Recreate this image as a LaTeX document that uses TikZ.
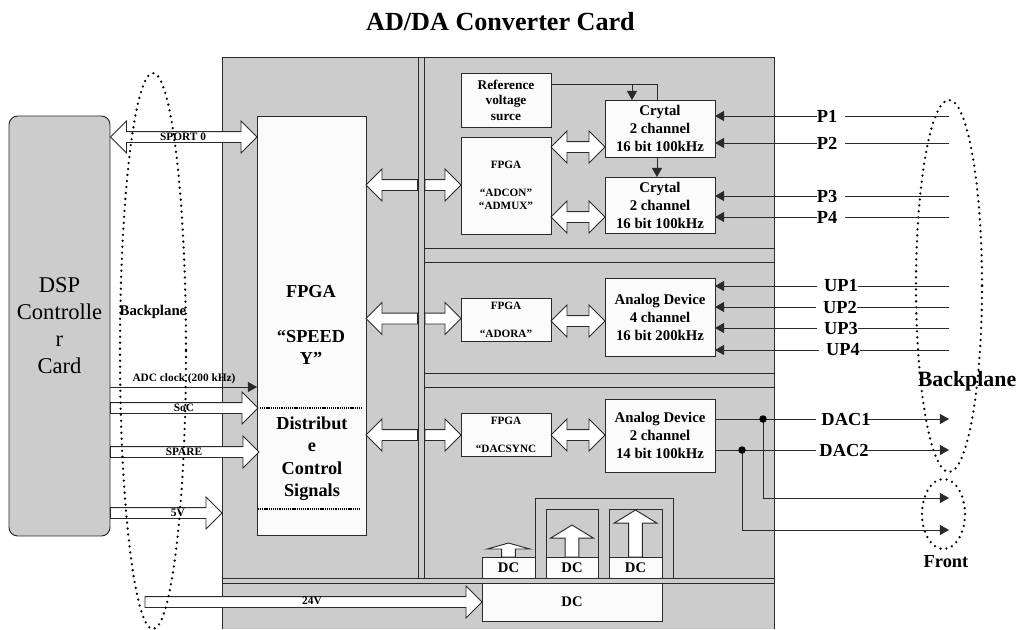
\documentclass[tikz,border=0pt]{standalone}
\usepackage{fontspec}
\setmainfont{Liberation Serif}
\usetikzlibrary{arrows.meta,calc}
\def\px{0.75pt}
\definecolor{panel}{HTML}{CCCCCC}
\definecolor{boxw}{HTML}{FBFBFB}
\definecolor{ink}{HTML}{2A2A2A}
\tikzset{
  bx/.style={draw=ink,fill=boxw,line width=.7pt,inner sep=0pt,outer sep=0pt,align=center},
  ln/.style={draw=ink,line width=.7pt},
  sig/.style={draw=ink,line width=.7pt},
  arr/.style={sig,-{Triangle[length=6.8pt,width=7.5pt]}},
  ba/.style={draw=ink,fill=white,line width=.7pt,line join=miter},
  dots/.style={draw=black,line width=1.9pt,line cap=round,dash pattern=on 0pt off 4.5pt},
  tt/.style={inner sep=0pt,outer sep=0pt,align=center},
  fCry/.style={font=\bfseries\fontsize{11.1pt}{13.5pt}\selectfont},
  fRef/.style={font=\bfseries\fontsize{10pt}{11.7pt}\selectfont},
  fFp/.style={font=\bfseries\fontsize{8.4pt}{10.4pt}\selectfont},
  fSm/.style={font=\bfseries\fontsize{8.5pt}{10pt}\selectfont},
  fDC/.style={font=\bfseries\fontsize{11pt}{13pt}\selectfont},
  fBig/.style={font=\bfseries\fontsize{13.7pt}{16.9pt}\selectfont},
  fPin/.style={font=\bfseries\fontsize{13.8pt}{16pt}\selectfont},
}
% box from corner (x1,y1) to (x2,y2) in reference pixels
\newcommand\bxn[7][bx]{\node[#1,minimum width={(#5-#3)*\px},minimum height={(#6-#4)*\px}] (#2) at ({(#3+#5)/2},{(#4+#6)/2}) {#7};}
% single block arrow #1 -> tip #2
\newcommand\harrow[2]{\draw[ba] let \p1=(#1),\p2=(#2),\n1={ifthenelse(\x2>\x1,1,-1)} in
  (\x1,\y2+4.1pt) -- (\x2-\n1*12pt,\y2+4.1pt) -- (\x2-\n1*12pt,\y2+12pt) -- (\x2,\y2)
  -- (\x2-\n1*12pt,\y2-12pt) -- (\x2-\n1*12pt,\y2-4.1pt) -- (\x1,\y2-4.1pt) -- cycle;}
% double block arrow, tips #1 (left) and #2 (right)
\newcommand\darrow[2]{\draw[ba] let \p1=(#1),\p2=(#2) in
  (\x1,\y1) -- (\x1+12pt,\y1+12pt) -- (\x1+12pt,\y1+4.1pt) -- (\x2-12pt,\y1+4.1pt) -- (\x2-12pt,\y1+12pt) -- (\x2,\y1)
  -- (\x2-12pt,\y1-12pt) -- (\x2-12pt,\y1-4.1pt) -- (\x1+12pt,\y1-4.1pt) -- (\x1+12pt,\y1-12pt) -- cycle;}
% up block arrow: base #1, tip #2, head length #3
\newcommand\uarrow[3]{\draw[ba] let \p1=(#1),\p2=(#2) in
  (\x1-5.2pt,\y1) -- (\x1-5.2pt,\y2-#3) -- (\x1-16pt,\y2-#3) -- (\x1,\y2) -- (\x1+16pt,\y2-#3) -- (\x1+5.2pt,\y2-#3) -- (\x1+5.2pt,\y1) -- cycle;}
\begin{document}
\begin{tikzpicture}[x=0.75pt,y=-0.75pt]
\useasboundingbox (0,0) rectangle (1020,629);
\fill[white] (0,0) rectangle (1020,629);
\node[tt,font=\bfseries\fontsize{19.6pt}{22pt}\selectfont] (title) at (500.5,22) {AD/DA Converter Card};

% card panels
\coordinate (pTL) at (222,57);
\coordinate (pBR) at (774,629);
\fill[panel] (pTL) rectangle (pBR);
\draw[ln] (222,629) -- (pTL) -- (774,57) -- (pBR);
\draw[ln] (418,57) -- (418,578);
\draw[ln] (424.5,57) -- (424.5,578);
\draw[ln] (222,578) -- (774,578);
\draw[ln] (222,583) -- (774,583);
\draw[ln] (424.5,248) -- (774,248);
\draw[ln] (424.5,262) -- (774,262);
\draw[ln] (424.5,373) -- (774,373);
\draw[ln] (424.5,387) -- (774,387);

% DSP card
\node[draw=ink,fill=panel,line width=.7pt,rounded corners=6.5pt,inner sep=0pt,align=center,
  minimum width=101*\px,minimum height=420*\px,font=\fontsize{16.9pt}{20.25pt}\selectfont] (dsp) at (59.5,326) {DSP\\Controlle\\r\\Card};

% FPGA main
\bxn{speedy}{257}{116}{366}{535}{}
\node[tt,fBig] (speedyT) at (311,325) {FPGA\\[16.9pt]“SPEED\\Y”};
\node[tt,fBig] (distT) at (312,458.5) {Distribut\\e\\Control\\Signals};
\coordinate (dotA) at (260,408); \coordinate (dotB) at (361,408);
\coordinate (dotC) at (258,509); \coordinate (dotD) at (359,509);
\draw[line width=.8pt,dash pattern=on .8pt off .6pt] (dotA) -- (dotB);
\draw[line width=.8pt,dash pattern=on .8pt off .6pt] (dotC) -- (dotD);

% inner boxes
\bxn[bx,fRef]{ref}{461}{73}{551}{127}{Reference\\voltage\\surce}
\bxn[bx,fFp]{adcon}{461}{137}{551}{234}{FPGA\\[10.4pt]“ADCON”\\“ADMUX”}
\bxn[bx,fCry]{cr1}{605}{100}{715}{157}{Crytal\\2 channel\\16 bit 100kHz}
\bxn[bx,fCry]{cr2}{605}{177}{715}{233}{Crytal\\2 channel\\16 bit 100kHz}
\bxn[bx,fFp]{adora}{461}{298}{551}{341}{FPGA\\[10.4pt]“ADORA”}
\bxn[bx,fCry]{ad4}{605}{278}{715}{356}{Analog Device\\4 channel\\16 bit 200kHz}
\bxn[bx,fFp]{dacs}{461}{413}{551}{456}{FPGA\\[10.4pt]“DACSYNC}
\bxn[bx,fCry]{ad2}{605}{399}{715}{472}{Analog Device\\2 channel\\14 bit 100kHz}

% reference connections
\coordinate (refc) at (657,84);
\coordinate (refb) at (632,84);
\draw[sig] (ref.east |- refc) -- (refc) -- (cr1.north -| refc);
\draw[arr] (refb) -- (refb |- cr1.north);
\draw[arr] (refc |- cr1.south) -- (refc |- cr2.north);

% block arrows, main rows
\coordinate (rowA) at (0,185);
\coordinate (rowB) at (0,318.5);
\coordinate (rowC) at (0,435);
\coordinate (slotL) at (417.5,0);
\coordinate (slotR) at (425,0);
\harrow{slotL |- rowA}{speedy.east |- rowA}
\harrow{slotR |- rowA}{adcon.west |- rowA}
\harrow{slotL |- rowB}{speedy.east |- rowB}
\harrow{slotR |- rowB}{adora.west |- rowB}
\harrow{slotL |- rowC}{speedy.east |- rowC}
\harrow{slotR |- rowC}{dacs.west |- rowC}
\coordinate (rowD) at (0,147);
\coordinate (rowE) at (0,217);
\coordinate (rowF) at (0,321);
\coordinate (rowG) at (0,435);
\darrow{adcon.east |- rowD}{cr1.west |- rowD}
\darrow{adcon.east |- rowE}{cr2.west |- rowE}
\darrow{adora.east |- rowF}{ad4.west |- rowF}
\darrow{dacs.east |- rowG}{ad2.west |- rowG}

% DC converters
\bxn[bx,fDC]{dcm}{482}{583}{662}{621}{DC}
\draw[ln] (535,578) -- (535,498) -- (673,498) -- (673,578);
\draw[ln] (546,557) -- (546,509) -- (598,509) -- (598,557);
\draw[ln] (609,557) -- (609,509) -- (662,509) -- (662,557);
\bxn[bx,fDC]{dca}{482}{557}{535}{578}{DC}
\bxn[bx,fDC]{dcb}{546}{557}{598}{578}{DC}
\bxn[bx,fDC]{dcc}{609}{557}{662}{578}{DC}
\coordinate (tipa) at (508.5,543);
\coordinate (tipb) at (572,525);
\coordinate (tipc) at (635.5,510);
\uarrow{dca.north}{tipa}{4.5pt}
\uarrow{dcb.north}{tipb}{9.8pt}
\uarrow{dcc.north}{tipc}{9.8pt}

% left side connections
\coordinate (rowS) at (0,137);
\coordinate (rowK) at (0,387);
\coordinate (rowO) at (0,408);
\coordinate (rowP) at (0,452);
\coordinate (row5) at (0,513);
\coordinate (row24) at (0,602);
\coordinate (tipO) at (258,0);
\coordinate (tipP) at (259,0);
\coordinate (tip5) at (222,0);
\coordinate (tail24) at (145,0);
\darrow{dsp.east |- rowS}{speedy.west |- rowS}
\draw[arr] (dsp.east |- rowK) -- (speedy.west |- rowK);
\harrow{dsp.east |- rowO}{tipO |- rowO}
\harrow{dsp.east |- rowP}{tipP |- rowP}
\harrow{dsp.east |- row5}{tip5 |- row5}
\harrow{tail24 |- row24}{dcm.west |- row24}

% dotted groups
\coordinate (eL) at (153,351);
\coordinate (eR) at (949,286);
\coordinate (eF) at (943.5,514);
\draw[dots] (eL) ellipse [x radius=33,y radius=278];
\draw[dots] (eR) ellipse [x radius=33,y radius=186];
\draw[dots] (eF) ellipse [x radius=21.5,y radius=35];

% left labels
\node[tt,fSm] (lS) at (183,137) {SPORT 0};
\node[tt,fSm] (lK) at (184,379) {ADC clock (200 kHz)};
\node[tt,fSm] (lO) at (184,408) {SoC};
\node[tt,fSm] (lP) at (184,452) {SPARE};
\node[tt,font=\bfseries\fontsize{8.6pt}{10pt}\selectfont] (l5) at (178,513) {5V};
\node[tt,fSm] (l24) at (312,601) {24V};
\node[tt,font=\bfseries\fontsize{11.1pt}{12pt}\selectfont] (bpL) at (153,312) {Backplane};

% right pins
\coordinate (x0) at (949,0);
\foreach \nm/\lab/\cx/\cy/\tgt in {P1/P1/827/116/cr1,P2/P2/827/143/cr1,P3/P3/827/196/cr2,P4/P4/827/217/cr2}{
  \node[tt,fPin] (l\nm) at (\cx,\cy) {\lab};
  \draw[arr] (l\nm.west) -- (\tgt.east |- l\nm);
  \draw[sig] (x0 |- l\nm) -- ([xshift=8*\px]l\nm.east);
}
\foreach \nm/\lab/\cx/\cy in {UP1/UP1/841/286,UP2/UP2/840/307,UP3/UP3/841/328,UP4/UP4/843/350}{
  \node[tt,fPin] (l\nm) at (\cx,\cy) {\lab};
  \draw[arr] ([xshift=-7*\px]l\nm.west) -- (ad4.east |- l\nm);
  \draw[sig] (x0 |- l\nm) -- (l\nm.east);
}
\node[tt,fPin] (lD1) at (846,419) {DAC1};
\node[tt,fPin] (lD2) at (844,450) {DAC2};
\coordinate (j1) at (763,419);
\coordinate (j2) at (742,450);
\coordinate (fr1) at (949,498);
\coordinate (fr2) at (949,530);
\draw[sig] (ad2.east |- lD1) -- ([xshift=-5*\px]lD1.west);
\draw[sig] (ad2.east |- lD2) -- ([xshift=-3*\px]lD2.west);
\draw[arr] ([xshift=-4*\px]lD1.east) -- (x0 |- lD1);
\draw[arr] ([xshift=-4*\px]lD2.east) -- (x0 |- lD2);
\draw[arr] (j1) -- (j1 |- fr1) -- (fr1);
\draw[arr] (j2) -- (j2 |- fr2) -- (fr2);
\fill[black] (j1) circle (2.8pt);
\fill[black] (j2) circle (2.8pt);
\node[tt,font=\bfseries\fontsize{16.4pt}{18pt}\selectfont] (bpR) at (967,381) {Backplane};
\node[tt,fPin] (lF) at (946,562) {Front};
\end{tikzpicture}
\end{document}
